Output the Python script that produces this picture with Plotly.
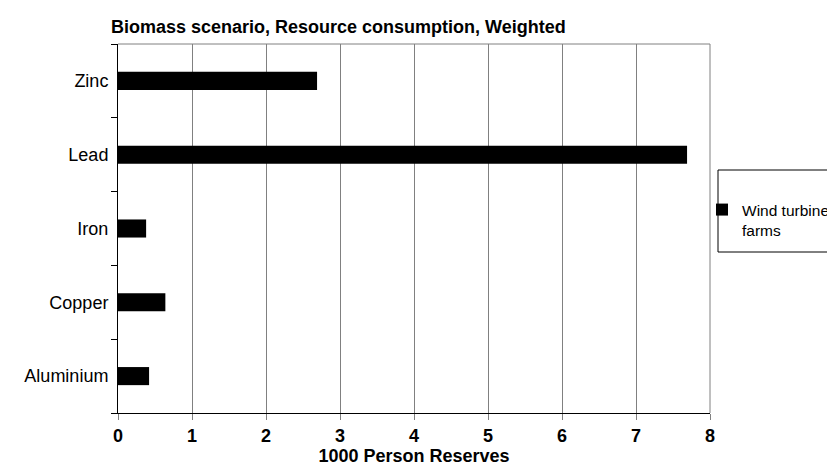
import plotly.graph_objects as go

categories = ["Aluminium", "Copper", "Iron", "Lead", "Zinc"]
values = [0.42, 0.64, 0.38, 7.69, 2.69]
series_name = "Wind turbine<br>farms"
x_ticks = [0, 1, 2, 3, 4, 5, 6, 7, 8]

L, R, T, B = 110, 133, 36, 61
W, H = 835, 466
pw, ph = W - L - R, H - T - B

def px_x(x):
    return (x - L) / pw

def px_y(y):
    return (H - B - y) / ph

fig = go.Figure()
fig.add_trace(go.Bar(
    y=categories, x=values, orientation="h", name=series_name,
    marker=dict(color="black", line=dict(width=0)), width=0.245,
    showlegend=True,
))

fig.update_layout(
    width=W, height=H,
    margin=dict(l=L, r=R, t=T, b=B, autoexpand=False),
    plot_bgcolor="white", paper_bgcolor="white",
    font=dict(family="Liberation Sans, Arial", size=18, color="black"),
    title=dict(text="<b>Biomass scenario, Resource consumption, Weighted</b>",
               x=103/W, xanchor="left", y=1-19/H, yanchor="middle",
               font=dict(size=18)),
    showlegend=True,
    legend=dict(x=px_x(694), y=px_y(185), xanchor="left", yanchor="top",
                borderwidth=0, bgcolor="rgba(0,0,0,0)",
                font=dict(size=15.5), itemwidth=30, valign="top"),
)
fig.update_xaxes(
    range=[0, 8], tickvals=x_ticks, ticktext=[f"<b>{v}</b>" for v in x_ticks],
    showgrid=True, gridcolor="#808080", gridwidth=1,
    showline=True, linecolor="black", linewidth=1,
    ticks="outside", ticklen=6, tickcolor="#808080",
    tickfont=dict(size=18),
    title=dict(text="<b>1000 Person Reserves</b>", font=dict(size=18), standoff=0),
    zeroline=False, automargin=False,
)
fig.update_yaxes(
    showgrid=False, showline=True, linecolor="black", linewidth=1,
    ticks="outside", ticklen=6, tickcolor="black", tickson="boundaries",
    tickfont=dict(size=18), ticklabelstandoff=5, automargin=False,
)
# grey frame on top and right
fig.add_shape(type="line", xref="paper", yref="paper", x0=0, x1=1, y0=1, y1=1,
              line=dict(color="#808080", width=1))
fig.add_shape(type="line", xref="paper", yref="paper", x0=1, x1=1, y0=0, y1=1,
              line=dict(color="#808080", width=1))
# legend frame
fig.add_shape(type="rect", xref="paper", yref="paper",
              x0=px_x(710), x1=px_x(850), y0=px_y(244), y1=px_y(162),
              line=dict(color="black", width=1), fillcolor="rgba(0,0,0,0)")

fig.write_html("out.html")
